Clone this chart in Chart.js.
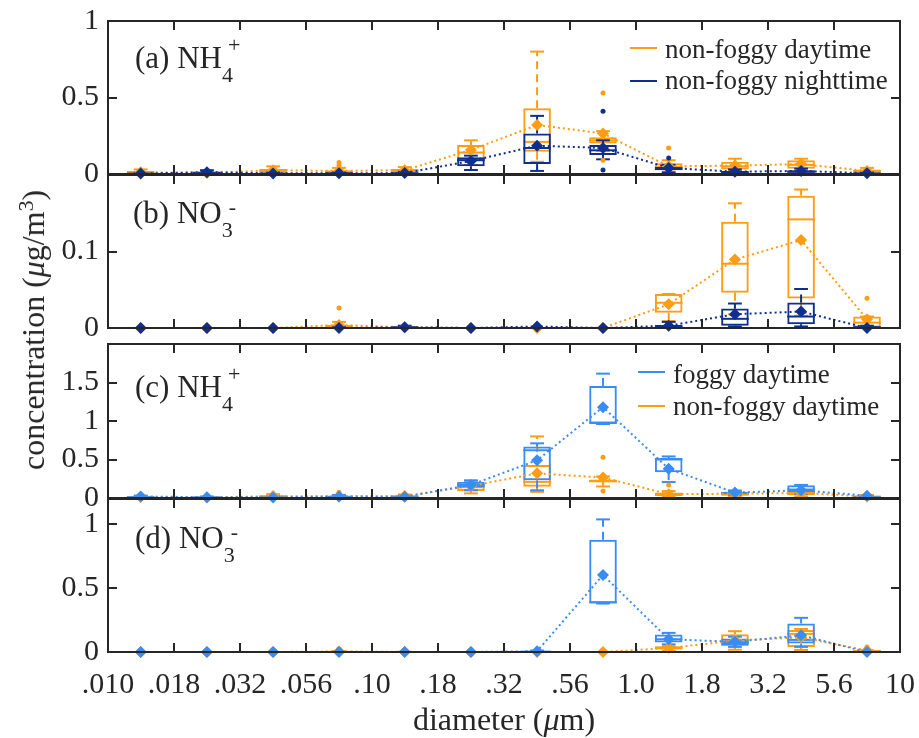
<!DOCTYPE html>
<html lang="en">
<head>
<meta charset="utf-8" />
<script src="https://cdn.jsdelivr.net/npm/chart.js@4.4.1/dist/chart.umd.min.js"></script>
<title>Size-resolved NH4+ and NO3-</title>
<style>
  body { margin: 0; background: #fff; }
  #fig { position: relative; width: 919px; height: 738px; overflow: hidden; font-family: "Liberation Serif", "Times New Roman", serif; color: #262626; }
  #fig canvas { position: absolute; left: 0; }
  .txt { position: absolute; white-space: nowrap; }
  .plab { font-size: 31px; line-height: 31px; }
  .ss { position: relative; display: inline-block; width: 14px; height: 0; }
  .ss span { position: absolute; font-size: 22px; line-height: 22px; }
  .leg { font-size: 27px; line-height: 27px; }
  .swatch { position: absolute; height: 0; border-top: 2px solid; width: 27px; }
  .ttl { font-size: 32px; line-height: 32px; }
  .ttl sup { font-size: 0.68em; line-height: 0; vertical-align: 0.5em; }
</style>
</head>
<body>
<div id="fig">
  <canvas id="cA" width="919" height="209" style="top:-7px"></canvas>
  <canvas id="cB" width="919" height="209" style="top:147px"></canvas>
  <canvas id="cC" width="919" height="210" style="top:316px"></canvas>
  <canvas id="cD" width="919" height="267" style="top:471px"></canvas>

  <div class="txt plab" style="left:135px;top:42px">(a) NH<span class="ss"><span style="left:6px;top:-34px">+</span><span style="left:0;top:-4px">4</span></span></div>
  <div class="txt plab" style="left:133px;top:197px">(b) NO<span class="ss"><span style="left:7px;top:-27px">-</span><span style="left:0;top:-4px">3</span></span></div>
  <div class="txt plab" style="left:135px;top:371px">(c) NH<span class="ss"><span style="left:6px;top:-34px">+</span><span style="left:0;top:-4px">4</span></span></div>
  <div class="txt plab" style="left:135px;top:522px">(d) NO<span class="ss"><span style="left:7px;top:-27px">-</span><span style="left:0;top:-4px">3</span></span></div>

  <div class="swatch" style="left:630px;top:47px;border-color:#ff9c12"></div>
  <div class="txt leg" style="left:665px;top:36px">non-foggy daytime</div>
  <div class="swatch" style="left:630px;top:80px;border-color:#0f2f8f"></div>
  <div class="txt leg" style="left:665px;top:67px">non-foggy nighttime</div>

  <div class="swatch" style="left:638px;top:371px;border-color:#3a8cf5"></div>
  <div class="txt leg" style="left:673px;top:361px">foggy daytime</div>
  <div class="swatch" style="left:638px;top:405px;border-color:#ff9c12"></div>
  <div class="txt leg" style="left:673px;top:393px">non-foggy daytime</div>

  <div class="txt ttl" style="left:33px;top:330px;transform:translate(-50%,-50%) rotate(-90deg)">concentration (<i>μ</i>g/m<sup>3</sup>)</div>
  <div class="txt ttl" style="left:504px;top:703px;transform:translateX(-50%)">diameter (<i>μ</i>m)</div>
</div>
<script>
// bin centres (µm) and axis ticks
const diameter = [0.0133, 0.0237, 0.0422, 0.075, 0.133, 0.237, 0.422, 0.75, 1.33, 2.37, 4.22, 7.5];
const xTickValues = [0.01, 0.0178, 0.0316, 0.0562, 0.1, 0.178, 0.316, 0.562, 1, 1.78, 3.16, 5.62, 10];
const xTickLabels = [".010", ".018", ".032", ".056", ".10", ".18", ".32", ".56", "1.0", "1.8", "3.2", "5.6", "10"];
const yTicksA = [0, 0.5, 1];
const yTicksB = [0, 0.1];
const yTicksC = [0, 0.5, 1, 1.5];
const yTicksD = [0, 0.5, 1];

// NH4+ non-foggy daytime
const nh4DayMin  = [0, 0, 0, 0, 0, 0.06, 0.08, 0.15, 0.015, 0.02, 0.02, 0.005];
const nh4DayQ1   = [0.003, 0.002, 0.01, 0.005, 0.01, 0.09, 0.146, 0.20, 0.026, 0.03, 0.035, 0.01];
const nh4DayMed  = [0.008, 0.004, 0.02, 0.012, 0.02, 0.14, 0.21, 0.22, 0.045, 0.05, 0.06, 0.018];
const nh4DayQ3   = [0.02, 0.008, 0.035, 0.025, 0.035, 0.19, 0.43, 0.24, 0.07, 0.08, 0.09, 0.03];
const nh4DayMax  = [0.03, 0.012, 0.05, 0.04, 0.045, 0.22, 0.80, 0.28, 0.09, 0.10, 0.10, 0.04];
const nh4DayMean = [0.012, 0.006, 0.025, 0.02, 0.025, 0.157, 0.32, 0.265, 0.05, 0.055, 0.065, 0.02];
const nh4DayOut  = [[3, 0.055], [3, 0.075], [7, 0.53], [7, 0.09], [8, 0.17]];

// NH4+ non-foggy nighttime
const nh4NightMin  = [0, 0, 0, 0, 0, 0.026, 0.02, 0.096, 0.01, 0, 0, 0];
const nh4NightQ1   = [0.001, 0.003, 0.001, 0.002, 0.002, 0.05, 0.065, 0.125, 0.025, 0.005, 0.008, 0.002];
const nh4NightMed  = [0.002, 0.008, 0.003, 0.004, 0.005, 0.09, 0.17, 0.155, 0.035, 0.01, 0.015, 0.004];
const nh4NightQ3   = [0.004, 0.015, 0.006, 0.008, 0.01, 0.11, 0.265, 0.19, 0.045, 0.02, 0.025, 0.007];
const nh4NightMax  = [0.006, 0.025, 0.01, 0.012, 0.015, 0.12, 0.38, 0.22, 0.06, 0.03, 0.035, 0.01];
const nh4NightMean = [0.003, 0.012, 0.004, 0.005, 0.006, 0.085, 0.185, 0.17, 0.04, 0.015, 0.02, 0.005];
const nh4NightOut  = [[7, 0.41], [7, 0.026], [8, 0.105]];

// NO3- non-foggy daytime
const no3DayMin  = [0, 0, 0, 0, 0, 0, 0, 0, 0.009, 0.018, 0.016, 0];
const no3DayQ1   = [0, 0, 0, 0, 0, 0, 0, 0, 0.020, 0.046, 0.0387, 0.0005];
const no3DayMed  = [0, 0, 0, 0.001, 0, 0, 0, 0, 0.033, 0.084, 0.142, 0.007];
const no3DayQ3   = [0, 0, 0, 0.004, 0.001, 0, 0, 0, 0.0445, 0.139, 0.173, 0.015];
const no3DayMax  = [0, 0, 0, 0.008, 0.002, 0, 0, 0, 0.0445, 0.163, 0.181, 0.015];
const no3DayMean = [0, 0, 0, 0.004, 0.001, 0, 0, 0, 0.031, 0.0895, 0.115, 0.0115];
const no3DayOut  = [[3, 0.026], [11, 0.039]];

// NO3- non-foggy nighttime
const no3NightMin  = [0, 0, 0, 0, 0, 0, 0, 0, 0, 0.002, 0.002, 0];
const no3NightQ1   = [0, 0, 0, 0, 0, 0, 0, 0, 0.001, 0.003, 0.005, 0];
const no3NightMed  = [0, 0, 0, 0, 0.001, 0, 0, 0, 0.002, 0.012, 0.015, 0.001];
const no3NightQ3   = [0, 0, 0, 0, 0.002, 0, 0, 0, 0.004, 0.0255, 0.0334, 0.002];
const no3NightMax  = [0, 0, 0, 0.001, 0.003, 0, 0, 0, 0.008, 0.032, 0.051, 0.003];
const no3NightMean = [0, 0, 0, 0, 0.001, 0, 0.002, 0, 0.003, 0.018, 0.0215, 0];
const no3NightOut  = [];

// NH4+ foggy daytime
const nh4FogMin  = [0, 0, 0, 0, 0, 0.10, 0.10, 0.96, 0.207, 0.04, 0.05, 0];
const nh4FogQ1   = [0.005, 0.003, 0.003, 0.008, 0.005, 0.135, 0.23, 0.96, 0.336, 0.055, 0.078, 0.005];
const nh4FogMed  = [0.01, 0.008, 0.006, 0.015, 0.01, 0.17, 0.62, 0.98, 0.50, 0.065, 0.11, 0.01];
const nh4FogQ3   = [0.02, 0.015, 0.012, 0.03, 0.02, 0.21, 0.67, 1.456, 0.52, 0.08, 0.164, 0.015];
const nh4FogMax  = [0.03, 0.02, 0.02, 0.04, 0.03, 0.23, 0.71, 1.615, 0.54, 0.09, 0.17, 0.02];
const nh4FogMean = [0.02, 0.01, 0.008, 0.02, 0.015, 0.17, 0.49, 1.18, 0.38, 0.07, 0.1, 0.03];
const nh4FogOut  = [];

// NO3- foggy daytime
const no3FogMin  = [0, 0, 0, 0, 0, 0, 0, 0.38, 0.06, 0.04, 0.04, 0];
const no3FogQ1   = [0, 0, 0, 0, 0, 0, 0, 0.381, 0.074, 0.055, 0.066, 0];
const no3FogMed  = [0, 0, 0, 0, 0, 0, 0.003, 0.39, 0.1, 0.075, 0.095, 0];
const no3FogQ3   = [0, 0, 0, 0, 0, 0, 0.008, 0.88, 0.137, 0.105, 0.224, 0];
const no3FogMax  = [0, 0, 0, 0, 0, 0, 0.012, 1.04, 0.15, 0.12, 0.268, 0];
const no3FogMean = [0, 0, 0, 0, 0, 0, 0.006, 0.604, 0.1, 0.08, 0.131, 0];
const no3FogOut  = [];

const ORANGE = "#ff9c12", NAVY = "#0f2f8f", SKY = "#3a8cf5", AXIS = "#262626";
const FONT = "'Liberation Serif', 'Times New Roman', serif";

const nh4Day   = { color: ORANGE, min: nh4DayMin, q1: nh4DayQ1, med: nh4DayMed, q3: nh4DayQ3, max: nh4DayMax, mean: nh4DayMean, out: nh4DayOut };
const nh4Night = { color: NAVY, min: nh4NightMin, q1: nh4NightQ1, med: nh4NightMed, q3: nh4NightQ3, max: nh4NightMax, mean: nh4NightMean, out: nh4NightOut };
const no3Day   = { color: ORANGE, min: no3DayMin, q1: no3DayQ1, med: no3DayMed, q3: no3DayQ3, max: no3DayMax, mean: no3DayMean, out: no3DayOut };
const no3Night = { color: NAVY, min: no3NightMin, q1: no3NightQ1, med: no3NightMed, q3: no3NightQ3, max: no3NightMax, mean: no3NightMean, out: no3NightOut };
const nh4Fog   = { color: SKY, min: nh4FogMin, q1: nh4FogQ1, med: nh4FogMed, q3: nh4FogQ3, max: nh4FogMax, mean: nh4FogMean, out: nh4FogOut };
const no3Fog   = { color: SKY, min: no3FogMin, q1: no3FogQ1, med: no3FogMed, q3: no3FogQ3, max: no3FogMax, mean: no3FogMean, out: no3FogOut };

// whiskers, caps and medians, drawn right after each box dataset
const boxParts = {
  id: "boxParts",
  afterDatasetDraw(chart, args) {
    const ds = chart.data.datasets[args.index];
    if (!ds.stats) return;
    const s = ds.stats, y = chart.scales.y, ctx = chart.ctx;
    const seg = (x1, y1, x2, y2) => { ctx.beginPath(); ctx.moveTo(x1, y1); ctx.lineTo(x2, y2); ctx.stroke(); };
    ctx.save();
    ctx.strokeStyle = s.color;
    ctx.lineWidth = 2;
    args.meta.data.forEach((bar, i) => {
      const cx = bar.x, w = bar.width;
      const pMin = y.getPixelForValue(s.min[i]), pQ1 = y.getPixelForValue(s.q1[i]);
      const pMed = y.getPixelForValue(s.med[i]);
      const pQ3 = y.getPixelForValue(s.q3[i]), pMax = y.getPixelForValue(s.max[i]);
      ctx.setLineDash([8, 5]);
      if (pMax < pQ3) seg(cx, pQ3, cx, pMax);
      if (pMin > pQ1) seg(cx, pQ1, cx, pMin);
      ctx.setLineDash([]);
      seg(cx - w / 4, pMax, cx + w / 4, pMax);
      seg(cx - w / 4, pMin, cx + w / 4, pMin);
      seg(cx - w / 2, pMed, cx + w / 2, pMed);
    });
    ctx.restore();
  }
};

// box frame with inward tick marks on all sides
const frame = {
  id: "frame",
  afterDraw(chart) {
    const { ctx, chartArea: { left, top, right, bottom }, scales: { x, y } } = chart;
    ctx.save();
    ctx.strokeStyle = AXIS;
    ctx.lineWidth = 2;
    ctx.strokeRect(left, top, right - left, bottom - top);
    ctx.beginPath();
    x.ticks.forEach(t => {
      const px = Math.round(x.getPixelForValue(t.value));
      if (px <= left + 1 || px >= right - 1) return;
      ctx.moveTo(px, bottom); ctx.lineTo(px, bottom - 9);
      ctx.moveTo(px, top); ctx.lineTo(px, top + 9);
    });
    y.ticks.forEach(t => {
      const py = Math.round(y.getPixelForValue(t.value));
      if (py <= top + 1 || py >= bottom - 1) return;
      ctx.moveTo(left, py); ctx.lineTo(left + 9, py);
      ctx.moveTo(right, py); ctx.lineTo(right - 9, py);
    });
    ctx.stroke();
    ctx.restore();
  }
};

function seriesDatasets(s, rank) {
  return [
    {
      type: "line", data: diameter.map((d, i) => ({ x: d, y: s.mean[i] })),
      borderColor: s.color, backgroundColor: s.color, borderWidth: 2, borderDash: [2, 3],
      pointStyle: "rectRot", pointRadius: 6, pointBorderWidth: 0, pointBackgroundColor: s.color,
      tension: 0, fill: false, clip: false, order: rank
    },
    {
      type: "scatter", data: s.out.map(([i, v]) => ({ x: diameter[i], y: v })),
      backgroundColor: s.color, pointRadius: 2.5, pointBorderWidth: 0, clip: false, order: rank
    },
    {
      type: "bar", data: diameter.map((d, i) => ({ x: d, y: [s.q1[i], s.q3[i]] })),
      backgroundColor: "rgba(0,0,0,0)", borderColor: s.color, borderWidth: 2, borderSkipped: false,
      grouped: false, categoryPercentage: 1, barPercentage: 0.42, stats: s, order: rank + 10
    }
  ];
}

function panel(id, padTop, padBottom, yMax, yTicks, series, bottomAxis) {
  const datasets = [];
  series.forEach((s, k) => datasets.push(...seriesDatasets(s, k)));
  new Chart(document.getElementById(id).getContext("2d"), {
    type: "bar",
    data: { datasets },
    options: {
      responsive: false,
      animation: false,
      events: [],
      layout: { padding: { left: 0, right: 19, top: padTop, bottom: padBottom } },
      plugins: { legend: { display: false }, tooltip: { enabled: false } },
      scales: {
        x: {
          type: "logarithmic", min: 0.01, max: 10, offset: false,
          grid: { display: false, drawTicks: false }, border: { display: false },
          ticks: {
            display: bottomAxis, autoSkip: false, maxRotation: 0, padding: 0,
            color: AXIS, font: { family: FONT, size: 30, lineHeight: 2.2 },
            callback: (v, i) => xTickLabels[i]
          },
          afterBuildTicks: sc => { sc.ticks = xTickValues.map(v => ({ value: v })); },
          afterFit: sc => { sc.height = bottomAxis ? 50 : 0; }
        },
        y: {
          type: "linear", min: 0, max: yMax,
          grid: { display: false, drawTicks: false }, border: { display: false },
          ticks: { padding: 9, color: AXIS, font: { family: FONT, size: 30 }, callback: v => String(v) },
          afterBuildTicks: sc => { sc.ticks = yTicks.map(v => ({ value: v })); },
          afterFit: sc => { sc.width = 108; }
        }
      }
    },
    plugins: [boxParts, frame]
  });
}

panel("cA", 28, 28, 1, yTicksA, [nh4Night, nh4Day], false);
panel("cB", 28, 28, 0.2, yTicksB, [no3Night, no3Day], false);
panel("cC", 28, 28, 2, yTicksC, [nh4Fog, nh4Day], false);
panel("cD", 28, 36, 1.2, yTicksD, [no3Fog, no3Day], true);
</script>
</body>
</html>
